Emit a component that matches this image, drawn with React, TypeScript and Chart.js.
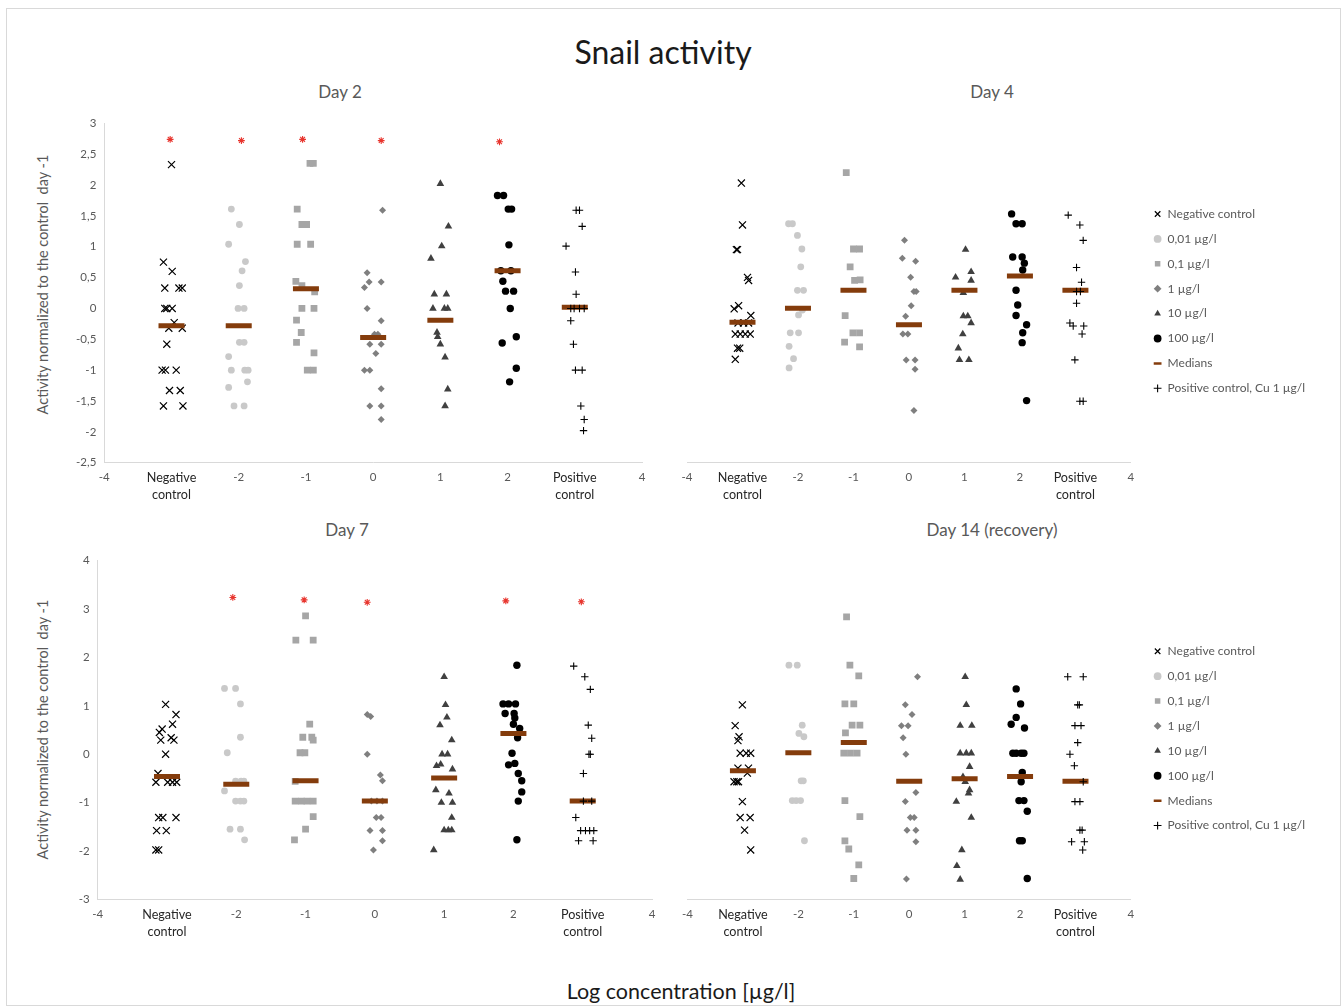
import React, { useEffect, useRef } from 'react';
import { Chart, registerables } from 'chart.js';

Chart.register(...registerables);

type P = [number, number];

// ---------------- DATA (x = jittered category position, y = normalized activity) ----------------
// Day 2
const day2Negative: P[] = [[-3.0,2.33],[-3.12,0.75],[-2.99,0.6],[-3.1,0.33],[-2.89,0.33],[-2.84,0.33],[-3.1,0],[-3.07,0],[-2.99,0],[-2.96,-0.23],[-3.04,-0.32],[-2.84,-0.32],[-3.07,-0.58],[-3.14,-1],[-3.09,-1],[-2.93,-1],[-3.03,-1.33],[-2.87,-1.33],[-3.12,-1.58],[-2.83,-1.58]];
const day2C001: P[] = [[-2.11,1.61],[-1.99,1.36],[-2.15,1.04],[-1.9,0.76],[-1.95,0.61],[-1.99,0.37],[-2.01,0],[-1.92,0],[-1.99,-0.55],[-1.92,-0.55],[-2.15,-0.78],[-2.11,-1],[-1.91,-1],[-1.86,-1],[-1.87,-1.19],[-2.15,-1.28],[-2.07,-1.58],[-1.92,-1.58]];
const day2C01: P[] = [[-0.94,2.35],[-0.89,2.35],[-1.13,1.61],[-1.06,1.36],[-0.99,1.36],[-1.13,1.04],[-0.93,1.04],[-1.15,0.44],[-1.06,0.37],[-0.87,0.27],[-1.06,0],[-0.88,0],[-1.14,-0.19],[-1.07,-0.39],[-1.14,-0.55],[-0.88,-0.72],[-0.98,-1],[-0.89,-1]];
const day2C1: P[] = [[0.14,1.59],[-0.09,0.58],[-0.06,0.43],[0.12,0.43],[-0.13,0.34],[-0.09,0],[0.12,-0.2],[0.02,-0.42],[0.07,-0.42],[-0.05,-0.58],[0.12,-0.58],[0.04,-0.73],[-0.13,-1],[-0.05,-1],[0.12,-1.3],[-0.05,-1.58],[0.12,-1.58],[0.12,-1.8]];
const day2C10: P[] = [[1.0,2.02],[1.12,1.33],[1.02,1.01],[0.86,0.81],[0.91,0.23],[1.09,0.23],[0.89,0],[1.06,0],[1.11,0],[0.95,-0.39],[0.96,-0.46],[1.0,-0.58],[1.07,-0.79],[1.11,-1.31],[1.07,-1.58]];
const day2C100: P[] = [[1.85,1.83],[1.94,1.83],[2.01,1.61],[2.06,1.61],[2.02,1.03],[1.9,0.61],[2.05,0.61],[1.93,0.44],[1.97,0.28],[2.09,0.28],[2.04,0],[2.13,-0.46],[1.92,-0.56],[2.13,-0.97],[2.03,-1.19]];
const day2Positive: P[] = [[3.02,1.59],[3.07,1.59],[3.11,1.33],[2.87,1.01],[3.01,0.59],[3.02,0.23],[2.94,0],[2.99,0],[3.07,0],[3.14,0],[2.94,-0.2],[2.98,-0.58],[3.01,-1],[3.11,-1],[3.09,-1.58],[3.14,-1.8],[3.13,-1.98]];
const day2Medians: P[] = [[-3,-0.28],[-2,-0.28],[-1,0.32],[0,-0.47],[1,-0.19],[2,0.61],[3,0.02]];
const day2Significant: P[] = [[-3.02,2.74],[-1.96,2.72],[-1.05,2.74],[0.12,2.72],[1.88,2.7]];

// Day 4
const day4Negative: P[] = [[-3.02,2.03],[-3.0,1.35],[-3.11,0.95],[-3.09,0.95],[-2.91,0.5],[-2.89,0.45],[-3.07,0.04],[-3.15,-0.01],[-2.85,-0.12],[-3.08,-0.24],[-2.98,-0.24],[-2.89,-0.24],[-3.13,-0.42],[-3.04,-0.42],[-2.95,-0.42],[-2.86,-0.42],[-3.09,-0.65],[-3.05,-0.65],[-3.13,-0.83]];
const day4C001: P[] = [[-2.17,1.37],[-2.1,1.37],[-2.01,1.18],[-1.93,0.96],[-1.95,0.67],[-2.01,0.29],[-1.9,0.29],[-1.92,-0.03],[-1.99,-0.11],[-2.14,-0.4],[-1.99,-0.4],[-2.16,-0.62],[-2.08,-0.82],[-2.16,-0.97]];
const day4C01: P[] = [[-1.13,2.2],[-1.0,0.96],[-0.89,0.96],[-1.06,0.67],[-0.98,0.45],[-0.88,0.46],[-1.15,-0.12],[-1.01,-0.4],[-0.89,-0.4],[-1.16,-0.55],[-0.89,-0.63]];
const day4C1: P[] = [[-0.08,1.1],[-0.12,0.81],[0.12,0.76],[0.03,0.5],[0.09,0.27],[0.13,0.27],[0.04,0.04],[-0.06,-0.13],[-0.11,-0.42],[-0.02,-0.42],[-0.05,-0.84],[0.11,-0.84],[0.11,-0.99],[0.09,-1.66]];
const day4C10: P[] = [[1.02,0.95],[1.12,0.59],[0.84,0.5],[1.12,0.45],[0.98,0.25],[0.98,-0.13],[1.06,-0.13],[1.12,-0.24],[0.97,-0.42],[0.89,-0.65],[0.91,-0.84],[1.08,-0.84]];
const day4C100: P[] = [[1.85,1.53],[1.93,1.37],[2.04,1.37],[1.87,0.83],[2.04,0.83],[2.08,0.73],[2.05,0.62],[1.93,0.29],[1.96,0.05],[1.93,-0.12],[2.12,-0.27],[2.05,-0.4],[2.04,-0.56],[2.12,-1.5]];
const day4Positive: P[] = [[2.87,1.51],[3.08,1.35],[3.14,1.1],[3.02,0.66],[3.11,0.42],[3.02,0.27],[3.09,0.27],[3.02,0.08],[2.9,-0.24],[2.96,-0.29],[3.15,-0.29],[3.12,-0.42],[2.99,-0.84],[3.08,-1.51],[3.14,-1.51]];
const day4Medians: P[] = [[-3,-0.23],[-2,0],[-1,0.29],[0,-0.27],[1,0.29],[2,0.52],[3,0.29]];
const day4Significant: P[] = [];

// Day 7
const day7Negative: P[] = [[-3.02,1.03],[-2.87,0.82],[-2.92,0.62],[-3.07,0.52],[-3.11,0.45],[-3.09,0.29],[-2.94,0.34],[-2.9,0.29],[-3.02,0],[-3.13,-0.4],[-3.16,-0.58],[-2.99,-0.58],[-2.92,-0.58],[-2.86,-0.58],[-3.12,-1.31],[-3.06,-1.31],[-2.87,-1.31],[-3.15,-1.58],[-3.01,-1.58],[-3.16,-1.98],[-3.12,-1.98]];
const day7C001: P[] = [[-2.17,1.36],[-2.01,1.36],[-1.94,1.04],[-1.94,0.35],[-2.13,0.03],[-2.01,-0.56],[-1.93,-0.56],[-1.89,-0.56],[-2.17,-0.76],[-2.01,-0.97],[-1.94,-0.97],[-1.89,-0.97],[-2.09,-1.55],[-1.94,-1.55],[-1.88,-1.77]];
const day7C01: P[] = [[-1.0,2.86],[-1.14,2.36],[-0.89,2.36],[-0.94,0.62],[-1.04,0.35],[-0.91,0.35],[-0.89,0.29],[-1.08,0.03],[-1.01,0.03],[-1.15,-0.56],[-1.15,-0.97],[-1.06,-0.97],[-0.98,-0.97],[-0.89,-0.97],[-0.89,-1.29],[-1.0,-1.55],[-1.16,-1.77]];
const day7C1: P[] = [[-0.11,0.82],[-0.06,0.78],[-0.11,0],[0.08,-0.43],[0.11,-0.55],[-0.05,-0.97],[0.03,-0.97],[0.11,-0.97],[0.02,-1.31],[0.09,-1.31],[-0.07,-1.58],[0.11,-1.58],[0.11,-1.79],[-0.02,-1.98]];
const day7C10: P[] = [[1.0,1.6],[1.02,1.02],[1.04,0.76],[0.94,0.6],[1.11,0.29],[0.97,0],[1.05,0],[0.89,-0.24],[0.95,-0.21],[1.12,-0.31],[0.88,-0.74],[1.07,-0.81],[0.96,-1.0],[1.12,-1.0],[1.11,-1.31],[1.0,-1.57],[1.06,-1.57],[1.11,-1.57],[0.85,-1.98]];
const day7C100: P[] = [[2.05,1.84],[1.85,1.04],[1.93,1.04],[2.03,1.04],[1.88,0.84],[2.01,0.84],[2.02,0.75],[2.0,0.62],[2.09,0.53],[2.06,0.34],[1.98,0.02],[1.93,-0.22],[2.02,-0.19],[2.07,-0.4],[2.12,-0.55],[2.12,-0.78],[2.07,-0.97],[2.05,-1.77]];
const day7Positive: P[] = [[2.87,1.82],[3.03,1.6],[3.11,1.34],[3.08,0.6],[3.13,0.33],[3.11,0],[3.09,0],[3.01,-0.4],[3.01,-0.97],[3.13,-0.97],[2.9,-1.31],[2.97,-1.58],[3.04,-1.58],[3.1,-1.58],[3.16,-1.58],[2.94,-1.79],[3.15,-1.79]];
const day7Medians: P[] = [[-3,-0.46],[-2,-0.62],[-1,-0.55],[0,-0.97],[1,-0.49],[2,0.43],[3,-0.97]];
const day7Significant: P[] = [[-2.05,3.24],[-1.02,3.19],[-0.11,3.14],[1.89,3.17],[2.98,3.15]];

// Day 14 (recovery)
const day14Negative: P[] = [[-3.01,1.02],[-3.14,0.59],[-3.07,0.36],[-3.09,0.28],[-3.05,0.02],[-2.94,0.02],[-2.86,0.02],[-3.09,-0.29],[-2.9,-0.29],[-2.92,-0.39],[-3.16,-0.57],[-3.11,-0.57],[-3.08,-0.57],[-3.01,-0.98],[-3.05,-1.31],[-2.87,-1.31],[-2.97,-1.57],[-2.86,-1.98]];
const day14C001: P[] = [[-2.17,1.84],[-2.02,1.84],[-1.93,0.6],[-1.99,0.43],[-1.9,0.36],[-1.95,-0.55],[-1.91,-0.55],[-2.11,-0.96],[-2.04,-0.96],[-1.96,-0.96],[-1.89,-1.79]];
const day14C01: P[] = [[-1.13,2.84],[-1.07,1.84],[-0.91,1.62],[-1.16,1.04],[-1.0,1.04],[-1.03,0.6],[-0.89,0.6],[-1.15,0.44],[-1.18,0.02],[-1.06,0.02],[-0.94,0.02],[-1.16,-0.96],[-0.89,-1.29],[-1.16,-1.79],[-1.09,-1.96],[-0.91,-2.29],[-1.0,-2.57]];
const day14C1: P[] = [[0.15,1.6],[-0.07,1.02],[0.05,0.82],[-0.14,0.59],[-0.02,0.59],[-0.11,0.34],[-0.06,0],[0.12,-0.79],[-0.07,-0.98],[0.02,-1.31],[0.09,-1.31],[-0.04,-1.57],[0.12,-1.57],[0.12,-1.81],[-0.05,-2.58]];
const day14C10: P[] = [[1.01,1.6],[1.03,1.02],[0.92,0.59],[1.13,0.59],[0.92,0.02],[1.03,0.02],[1.12,0.02],[1.09,-0.26],[0.97,-0.47],[1.01,-0.57],[1.09,-0.74],[1.07,-0.81],[0.85,-0.98],[1.12,-1.31],[0.95,-1.98],[0.86,-2.31],[0.92,-2.59]];
const day14C100: P[] = [[1.93,1.35],[2.01,1.04],[1.93,0.76],[1.84,0.62],[2.08,0.54],[1.87,0.02],[1.93,0.02],[2.02,0.02],[2.07,0.02],[2.04,-0.38],[2.02,-0.57],[1.98,-0.96],[2.07,-0.96],[2.13,-1.18],[1.99,-1.79],[2.04,-1.79],[2.13,-2.57]];
const day14Positive: P[] = [[2.86,1.6],[3.14,1.6],[3.04,1.02],[3.07,1.02],[2.99,0.59],[3.1,0.59],[3.04,0.24],[2.9,0],[2.98,-0.24],[3.14,-0.57],[2.99,-0.98],[3.08,-0.98],[3.08,-1.57],[3.12,-1.57],[2.93,-1.81],[3.16,-1.81],[3.13,-1.98]];
const day14Medians: P[] = [[-3,-0.34],[-2,0.03],[-1,0.24],[0,-0.56],[1,-0.51],[2,-0.46],[3,-0.56]];
const day14Significant: P[] = [];

const seriesLabels = ['Negative control', '0,01 µg/l', '0,1 µg/l', '1 µg/l', '10 µg/l', '100 µg/l', 'Medians', 'Positive control, Cu 1 µg/l'];
const xTickValues = [-4, -3, -2, -1, 0, 1, 2, 3, 4];
const xTickLabels: (string | string[])[] = ['-4', ['Negative', 'control'], '-2', '-1', '0', '1', '2', ['Positive', 'control'], '4'];
const SIG_LABEL = 'Significant';

// ---------------- STYLES / LAYOUT ----------------
const FONT = 'Lato, "Open Sans", "DejaVu Sans", sans-serif';
Chart.defaults.font.family = FONT;

const STYLES = [
  { pointStyle: 'crossRot', radius: 5.0, color: '#000000', bw: 1.2 },
  { pointStyle: 'circle', radius: 3.4, color: '#C9C9C9', bw: 0 },
  { pointStyle: 'rect', radius: 4.8, color: '#A6A6A6', bw: 0 },
  { pointStyle: 'rectRot', radius: 3.5, color: '#7F7F7F', bw: 0 },
  { pointStyle: 'triangle', radius: 4.4, color: '#404040', bw: 0 },
  { pointStyle: 'circle', radius: 3.7, color: '#000000', bw: 0 },
  { pointStyle: 'line', radius: 13, color: '#843C0C', bw: 5 },
  { pointStyle: 'cross', radius: 3.7, color: '#000000', bw: 1.1 },
];

const LEG_FONT = 12;
const LEG_PAD = 12.9;
const LEG_BOX_W = 8;

interface PanelSpec {
  key: string;
  series: P[][];
  stars: P[];
  yMin: number; yMax: number; yStep: number;
  leftAxis: boolean;
  legend: boolean;
  left: number; top: number; width: number; height: number;
  plotLeft: number; plotRight: number; plotTop: number; plotBottom: number;
  spacer: number;
}

const PANELS: PanelSpec[] = [
  { key: 'd2', series: [day2Negative, day2C001, day2C01, day2C1, day2C10, day2C100, day2Medians, day2Positive], stars: day2Significant,
    yMin: -2.5, yMax: 3, yStep: 0.5, leftAxis: true, legend: false,
    left: 20, top: 75, width: 640, height: 440, plotLeft: 104.3, plotRight: 646.7, plotTop: 123.3, plotBottom: 462.7, spacer: 0 },
  { key: 'd4', series: [day4Negative, day4C001, day4C01, day4C1, day4C10, day4C100, day4Medians, day4Positive], stars: day4Significant,
    yMin: -2.5, yMax: 3, yStep: 0.5, leftAxis: false, legend: true,
    left: 665, top: 75, width: 670, height: 440, plotLeft: 687, plotRight: 1129.3, plotTop: 123.3, plotBottom: 462.2, spacer: 9.8 },
  { key: 'd7', series: [day7Negative, day7C001, day7C01, day7C1, day7C10, day7C100, day7Medians, day7Positive], stars: day7Significant,
    yMin: -3, yMax: 4, yStep: 1, leftAxis: true, legend: false,
    left: 15, top: 510, width: 655, height: 440, plotLeft: 97.7, plotRight: 657.3, plotTop: 560.7, plotBottom: 899.3, spacer: 0 },
  { key: 'd14', series: [day14Negative, day14C001, day14C01, day14C1, day14C10, day14C100, day14Medians, day14Positive], stars: day14Significant,
    yMin: -3, yMax: 4, yStep: 1, leftAxis: false, legend: true,
    left: 665, top: 510, width: 670, height: 440, plotLeft: 687.5, plotRight: 1129.3, plotTop: 560.7, plotBottom: 899.3, spacer: 9.8 },
];

function Panel({ spec }: { spec: PanelSpec }) {
  const ref = useRef<HTMLCanvasElement>(null);
  useEffect(() => {
    const canvas = ref.current;
    if (!canvas) return;
    const ctx2d = canvas.getContext('2d')!;
    ctx2d.font = `${LEG_FONT}px ${FONT}`;
    const maxText = Math.max(...seriesLabels.map((t) => ctx2d.measureText(t).width));
    const legendW = spec.legend ? Math.ceil(LEG_PAD + LEG_BOX_W + LEG_FONT / 2 + maxText + 10) + 1 : 0;

    const plotL = spec.plotLeft - spec.left;
    const plotR = spec.plotRight - spec.left;
    const plotT = spec.plotTop - spec.top;
    const plotB = spec.plotBottom - spec.top;
    const yAxisW = spec.leftAxis ? plotL : spec.spacer;
    const padLeft = spec.leftAxis ? 0 : plotL;
    const padRight = spec.leftAxis ? spec.width - plotR : spec.width - plotR - spec.spacer - legendW;
    const xAxisH = spec.height - plotB;

    const datasets: any[] = spec.series.map((pts, i) => ({
      label: seriesLabels[i],
      data: pts.map(([x, y]) => ({ x, y })),
      pointStyle: STYLES[i].pointStyle,
      pointRadius: STYLES[i].radius,
      pointBackgroundColor: STYLES[i].color,
      pointBorderColor: STYLES[i].color,
      pointBorderWidth: STYLES[i].bw,
      backgroundColor: STYLES[i].color,
      borderColor: STYLES[i].color,
      borderWidth: STYLES[i].bw,
      showLine: false,
      order: 20 - i,
    }));
    if (spec.stars.length) {
      datasets.push({
        label: SIG_LABEL,
        data: spec.stars.map(([x, y]) => ({ x, y })),
        pointStyle: 'star',
        pointRadius: 3.4,
        pointBackgroundColor: '#E8352E',
        pointBorderColor: '#E8352E',
        pointBorderWidth: 1.1,
        showLine: false,
        order: 0,
      });
    }
    const tickIsCat = (ctx: any) => ctx.tick && Math.abs(ctx.tick.value) === 3;
    const chart = new Chart(canvas, {
      type: 'scatter',
      data: { datasets },
      options: {
        animation: false,
        responsive: false,
        events: [],
        layout: { padding: { left: padLeft, right: padRight, top: plotT, bottom: 0 } },
        plugins: {
          tooltip: { enabled: false },
          title: { display: false },
          legend: spec.legend ? {
            display: true,
            position: 'right',
            fullSize: false,
            maxWidth: legendW,
            title: { display: true, text: '', padding: 0, font: { size: 14, lineHeight: 1.2 } },
            labels: {
              usePointStyle: true,
              boxWidth: LEG_BOX_W,
              boxHeight: 5.5,
              padding: LEG_PAD,
              color: '#595959',
              font: { family: FONT, size: LEG_FONT },
              generateLabels: (ch: any) => {
                const items = (Chart.defaults.plugins.legend.labels as any).generateLabels(ch);
                return items
                  .filter((it: any) => it.text !== SIG_LABEL)
                  .sort((a: any, b: any) => a.datasetIndex - b.datasetIndex)
                  .map((it: any) => (it.text === 'Medians' ? { ...it, lineWidth: 2.5 } : it));
              },
            },
          } : { display: false },
        },
        scales: {
          x: {
            type: 'linear',
            position: 'bottom',
            min: -4,
            max: 4,
            afterFit: (s: any) => { s.height = xAxisH; },
            afterBuildTicks: (s: any) => { s.ticks = xTickValues.map((v) => ({ value: v })); },
            grid: { display: false, drawTicks: false },
            border: { display: true, color: '#D9D9D9', width: 1 },
            ticks: {
              autoSkip: false,
              maxRotation: 0,
              minRotation: 0,
              padding: 7,
              color: (ctx: any) => (tickIsCat(ctx) ? '#262626' : '#595959'),
              font: (ctx: any) => ({ family: FONT, size: tickIsCat(ctx) ? 12.6 : 11.5, lineHeight: 1.35 }),
              callback: (v: any) => {
                const idx = xTickValues.indexOf(Number(v));
                return idx >= 0 ? xTickLabels[idx] : '';
              },
            },
          },
          y: {
            type: 'linear',
            position: spec.leftAxis ? 'left' : 'right',
            min: spec.yMin,
            max: spec.yMax,
            afterFit: (s: any) => { s.width = yAxisW; },
            grid: { display: false, drawTicks: false },
            border: { display: spec.leftAxis, color: '#D9D9D9', width: 1 },
            ticks: {
              display: spec.leftAxis,
              stepSize: spec.yStep,
              padding: 8,
              color: '#595959',
              font: { family: FONT, size: 11.5 },
              callback: (v: any) => String(Math.round(Number(v) * 10) / 10).replace('.', ','),
            },
          },
        },
      } as any,
    });
    return () => chart.destroy();
  }, [spec]);
  return (
    <canvas
      ref={ref}
      width={spec.width}
      height={spec.height}
      style={{ position: 'absolute', left: spec.left, top: spec.top, width: spec.width, height: spec.height }}
    />
  );
}

function Txt({ cx, cy, size, color, text, rotate }: { cx: number; cy: number; size: number; color: string; text: string; rotate?: number }) {
  return (
    <div
      style={{
        position: 'absolute', left: cx - 300, top: cy - size, width: 600, height: size * 2,
        lineHeight: `${size * 2}px`, textAlign: 'center', fontSize: size, color, fontFamily: FONT,
        whiteSpace: 'pre', transform: rotate ? `rotate(${rotate}deg)` : undefined, transformOrigin: 'center center',
      }}
    >
      {text}
    </div>
  );
}

export default function App() {
  return (
    <div style={{ position: 'absolute', left: 0, top: 0, width: 1344, height: 1006, background: '#ffffff', overflow: 'hidden' }}>
      <div style={{ position: 'absolute', left: 6, top: 8, width: 1335, height: 998, border: '1px solid #D9D9D9', boxSizing: 'border-box' }} />
      <Txt cx={663} cy={52} size={32} color="#1a1a1a" text="Snail activity" />
      <Txt cx={340} cy={92} size={17} color="#595959" text="Day 2" />
      <Txt cx={992} cy={92} size={17} color="#595959" text="Day 4" />
      <Txt cx={347} cy={530} size={17} color="#595959" text="Day 7" />
      <Txt cx={992} cy={530} size={17} color="#595959" text="Day 14 (recovery)" />
      <Txt cx={42} cy={284} size={14.5} color="#595959" rotate={-90} text="Activity normalized to the control  day -1" />
      <Txt cx={42} cy={729} size={14.5} color="#595959" rotate={-90} text="Activity normalized to the control  day -1" />
      <Txt cx={681} cy={991} size={21.5} color="#1a1a1a" text="Log concentration [µg/l]" />
      {PANELS.map((p) => (
        <Panel key={p.key} spec={p} />
      ))}
    </div>
  );
}
